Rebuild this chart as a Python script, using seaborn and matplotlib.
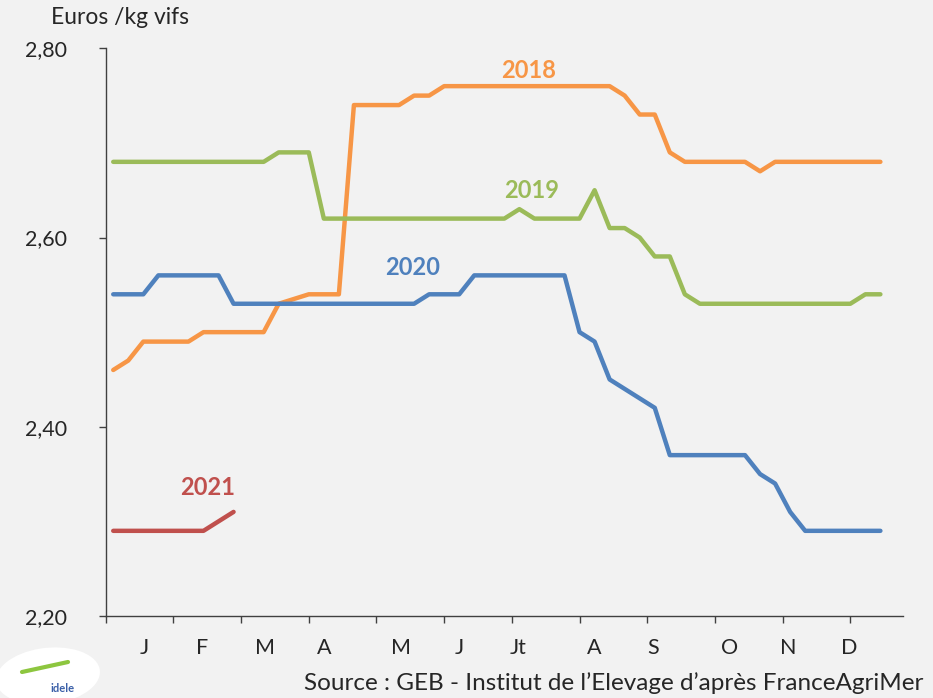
import numpy as np
import pandas as pd
import seaborn as sns
import matplotlib.pyplot as plt
from matplotlib.ticker import FuncFormatter, FixedLocator
from matplotlib.patches import Ellipse

# prix hebdomadaires (semaines 1 a 52)
y2018 = [2.46, 2.47, 2.49, 2.49, 2.49, 2.49, 2.50, 2.50, 2.50, 2.50,
         2.50, 2.53, 2.535, 2.54, 2.54, 2.54, 2.74, 2.74, 2.74, 2.74,
         2.75, 2.75, 2.76, 2.76, 2.76, 2.76, 2.76, 2.76, 2.76, 2.76,
         2.76, 2.76, 2.76, 2.76, 2.75, 2.73, 2.73, 2.69, 2.68, 2.68,
         2.68, 2.68, 2.68, 2.67, 2.68, 2.68, 2.68, 2.68, 2.68, 2.68,
         2.68, 2.68]
y2019 = [2.68, 2.68, 2.68, 2.68, 2.68, 2.68, 2.68, 2.68, 2.68, 2.68,
         2.68, 2.69, 2.69, 2.69, 2.62, 2.62, 2.62, 2.62, 2.62, 2.62,
         2.62, 2.62, 2.62, 2.62, 2.62, 2.62, 2.62, 2.63, 2.62, 2.62,
         2.62, 2.62, 2.65, 2.61, 2.61, 2.60, 2.58, 2.58, 2.54, 2.53,
         2.53, 2.53, 2.53, 2.53, 2.53, 2.53, 2.53, 2.53, 2.53, 2.53,
         2.54, 2.54]
y2020 = [2.54, 2.54, 2.54, 2.56, 2.56, 2.56, 2.56, 2.56, 2.53, 2.53,
         2.53, 2.53, 2.53, 2.53, 2.53, 2.53, 2.53, 2.53, 2.53, 2.53,
         2.53, 2.54, 2.54, 2.54, 2.56, 2.56, 2.56, 2.56, 2.56, 2.56,
         2.56, 2.50, 2.49, 2.45, 2.44, 2.43, 2.42, 2.37, 2.37, 2.37,
         2.37, 2.37, 2.37, 2.35, 2.34, 2.31, 2.29, 2.29, 2.29, 2.29,
         2.29, 2.29]
y2021 = [2.29, 2.29, 2.29, 2.29, 2.29, 2.29, 2.29, 2.30, 2.31]

years = ['2018', '2019', '2020', '2021']
colors = {'2018': '#F79646', '2019': '#9BBB59', '2020': '#4F81BD', '2021': '#C0504D'}
months = ['J', 'F', 'M', 'A', 'M', 'J', 'Jt', 'A', 'S', 'O', 'N', 'D']

series = {'2018': y2018, '2019': y2019, '2020': y2020, '2021': y2021}
df = pd.concat([pd.DataFrame({'semaine': np.arange(len(v)), 'prix': v, 'annee': k})
                for k, v in series.items()])

bg = '#F2F2F2'
sns.set_style('white', {'axes.facecolor': bg, 'figure.facecolor': bg})
plt.rcParams['font.family'] = ['Lato', 'DejaVu Sans']

fig = plt.figure(figsize=(9.33, 6.98), dpi=100)
ax = fig.add_axes([0.1133, 0.1175, 0.8545, 0.8133])

sns.lineplot(data=df, x='semaine', y='prix', hue='annee', palette=colors,
             linewidth=3.2, legend=False, ax=ax, solid_capstyle='round')

ax.set_xlim(-0.5, 52.5)
ax.set_ylim(2.20, 2.80)
sns.despine(ax=ax)
for s in ['left', 'bottom']:
    ax.spines[s].set_color('#404040')
    ax.spines[s].set_linewidth(1.0)

ax.set_yticks([2.20, 2.40, 2.60, 2.80])
ax.yaxis.set_major_formatter(FuncFormatter(lambda v, p: f'{v:.2f}'.replace('.', ',')))
ax.tick_params(axis='y', direction='out', length=5, width=1, color='#404040',
               labelsize=15.5, pad=23, labelcolor='#262626', left=True)

# graduations entre les mois, etiquettes des mois
ax.xaxis.remove_overlapping_locs = False
ax.xaxis.set_major_locator(FixedLocator([-0.5 + 4.5 * k for k in range(12)]))
ax.xaxis.set_major_formatter(FuncFormatter(lambda v, p: ''))
ax.xaxis.set_minor_locator(FixedLocator([2.05, 5.9, 10.1, 14.0, 19.1, 23.0, 26.9, 32.0, 35.9, 41.0, 44.9, 48.95]))
ax.set_xticklabels(months, minor=True)
ax.tick_params(axis='x', which='major', direction='out', length=5, width=1, color='#404040', bottom=True)
ax.tick_params(axis='x', which='minor', length=0, labelsize=15.5, pad=16, labelcolor='#262626')
ax.set_xlabel('')
ax.set_ylabel('')

labels_pos = {'2018': (27.6, 2.777), '2019': (27.8, 2.650), '2020': (19.9, 2.568), '2021': (6.25, 2.336)}
for k in years:
    x, y = labels_pos[k]
    ax.text(x, y, k, color=colors[k], fontsize=17, fontweight='bold', ha='center', va='center')

fig.text(51 / 933, 1 - 18 / 698, 'Euros /kg vifs', fontsize=16.5, color='#262626', ha='left', va='center')
fig.text(304 / 933, 1 - 683 / 698, "Source : GEB - Institut de l\u2019Elevage d\u2019apr\u00e8s FranceAgriMer",
         fontsize=17.5, color='#262626', ha='left', va='center')

# logo (simplifie)
fig.patches.append(Ellipse((48 / 933, 1 - 676 / 698), 105 / 933, 56 / 698, angle=12,
                           transform=fig.transFigure, facecolor='white', edgecolor='none', zorder=0))
fig.lines.append(plt.Line2D([22 / 933, 68 / 933], [1 - 672 / 698, 1 - 662 / 698],
                            transform=fig.transFigure, color='#8DC63F', linewidth=3))
fig.text(50 / 933, 1 - 688 / 698, 'idele', fontsize=8, fontweight='bold', color='#3A5FA8', ha='left', va='center')

fig.savefig('out.png', dpi=100, facecolor=bg)
